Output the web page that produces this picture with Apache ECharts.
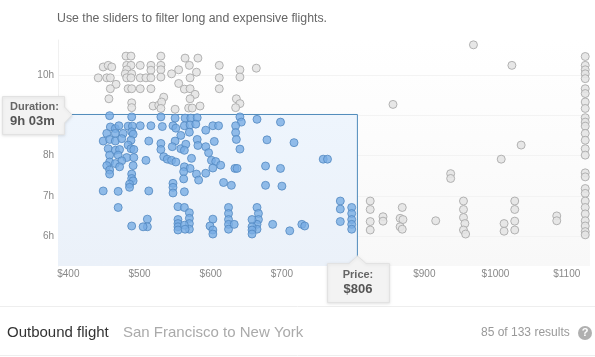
<!DOCTYPE html>
<html>
<head>
<meta charset="utf-8">
<style>
    html, body {margin: 0; padding: 0; background: #fff;}
    #chart {width: 595px; height: 357px;}
</style>
<script src="https://cdn.jsdelivr.net/npm/echarts@6/dist/echarts.min.js"></script>
</head>
<body>
<div id="chart"></div>
<script>
// [price in $, duration in hours]
const flights_selected = [
    [458, 8.99], [489, 8.96], [530, 8.96], [550, 8.93], [564, 8.93], [572, 8.93], [581, 8.94],
    [459, 8.71], [466, 8.67], [471, 8.74], [484, 8.73], [490, 8.73], [501, 8.74], [516, 8.74],
    [532, 8.72], [547, 8.74], [551, 8.68], [563, 8.74], [571, 8.76], [579, 8.78], [603, 8.74],
    [611, 8.74], [593, 8.63], [570, 8.58], [454, 8.55], [466, 8.55], [477, 8.55], [489, 8.59],
    [491, 8.53], [558, 8.50], [449, 8.36], [458, 8.40], [466, 8.36], [475, 8.42], [488, 8.38],
    [513, 8.36], [581, 8.40], [605, 8.35], [550, 8.36], [456, 8.17], [466, 8.13], [472, 8.15],
    [484, 8.26], [488, 8.17], [492, 8.15], [530, 8.30], [530, 8.15], [546, 8.22], [558, 8.17],
    [565, 8.28], [563, 8.13], [582, 8.25], [593, 8.22], [458, 8.01], [470, 8.01], [458, 7.84],
    [482, 7.95], [475, 7.87], [492, 7.95], [509, 7.88], [534, 7.97], [539, 7.91], [545, 7.88],
    [551, 7.84], [573, 7.93], [597, 8.07], [601, 7.88], [607, 7.85], [614, 7.76], [454, 7.75],
    [466, 7.80], [472, 7.72], [491, 7.75], [458, 7.64], [458, 7.54], [563, 7.72], [571, 7.68],
    [562, 7.60], [603, 7.69], [593, 7.56], [580, 7.54], [489, 7.54], [489, 7.43], [491, 7.37],
    [486, 7.29], [486, 7.21], [562, 7.42], [583, 7.39], [547, 7.31], [547, 7.21], [449, 7.12],
    [470, 7.11], [513, 7.12], [547, 7.07], [563, 7.10], [470, 6.71], [554, 6.73], [563, 6.71],
    [570, 6.58], [570, 6.44], [570, 6.31], [570, 6.17], [554, 6.41], [554, 6.31], [554, 6.23],
    [554, 6.15], [563, 6.27], [564, 6.17], [511, 6.42], [511, 6.23], [505, 6.23], [489, 6.25],
    [603, 6.42], [599, 6.25], [603, 6.15], [603, 6.05], [641, 8.96], [643, 8.83], [665, 8.90],
    [698, 8.83], [635, 8.74], [635, 8.57], [636, 8.40], [679, 8.39], [717, 8.32], [641, 8.16],
    [634, 7.68], [637, 7.68], [677, 7.74], [698, 7.68], [758, 7.91], [764, 7.91], [618, 7.33],
    [629, 7.26], [677, 7.26], [700, 7.24], [782, 6.87], [782, 6.67], [782, 6.36], [798, 6.71],
    [798, 6.56], [798, 6.41], [798, 6.29], [798, 6.17], [625, 6.71], [625, 6.56], [625, 6.41],
    [625, 6.29], [625, 6.17], [633, 6.29], [665, 6.71], [667, 6.56], [667, 6.41], [665, 6.29],
    [665, 6.17], [658, 6.41], [658, 6.23], [658, 6.15], [658, 6.05], [687, 6.29], [711, 6.13],
    [728, 6.29], [732, 6.25],
]

const flights_filtered = [
    [481, 10.47], [488, 10.47], [530, 10.47], [564, 10.42], [582, 10.42], [449, 10.20], [456, 10.24],
    [461, 10.20], [482, 10.24], [488, 10.24], [501, 10.24], [516, 10.24], [530, 10.24], [570, 10.24],
    [612, 10.24], [641, 10.13], [664, 10.17], [530, 10.13], [516, 10.12], [555, 10.13], [545, 10.03],
    [580, 10.07], [482, 10.13], [480, 10.03], [489, 10.03], [442, 9.93], [454, 9.93], [459, 9.93],
    [482, 9.93], [488, 9.93], [501, 9.93], [509, 9.93], [516, 9.93], [530, 9.95], [571, 9.93],
    [612, 9.93], [641, 9.95], [467, 9.77], [555, 9.79], [459, 9.66], [484, 9.66], [489, 9.66],
    [501, 9.66], [516, 9.66], [563, 9.65], [571, 9.66], [612, 9.66], [578, 9.52], [571, 9.41],
    [457, 9.41], [534, 9.45], [636, 9.41], [641, 9.29], [489, 9.31], [489, 9.19], [519, 9.23],
    [527, 9.25], [531, 9.33], [530, 9.17], [550, 9.15], [569, 9.18], [574, 9.18], [585, 9.23],
    [635, 9.19], [969, 10.75], [1023, 10.24], [856, 9.27], [1036, 8.26], [1008, 7.91], [937, 7.55],
    [937, 7.43], [824, 6.87], [824, 6.66], [824, 6.36], [824, 6.15], [842, 6.48], [842, 6.37],
    [869, 6.71], [866, 6.44], [870, 6.41], [866, 6.23], [869, 6.17], [916, 6.38], [955, 6.87],
    [955, 6.66], [955, 6.46], [957, 6.31], [955, 6.15], [958, 6.05], [1012, 6.31], [1012, 6.12],
    [1027, 6.87], [1027, 6.66], [1027, 6.37], [1027, 6.15], [1086, 6.50], [1086, 6.38],
    [1126, 10.46], [1126, 10.24], [1126, 10.13], [1126, 10.03], [1126, 9.91], [1126, 9.66],
    [1126, 9.54], [1126, 9.33], [1126, 9.17], [1126, 8.94], [1126, 8.83], [1126, 8.73], [1126, 8.55],
    [1126, 8.38], [1126, 8.17], [1126, 8.01], [1126, 7.57], [1126, 7.47], [1126, 7.18], [1126, 7.06],
    [1126, 6.87], [1126, 6.71], [1126, 6.55], [1126, 6.38], [1126, 6.25], [1126, 6.11], [1126, 6.03],
]

const price_ticks = [400, 500, 600, 700, 800, 900, 1000, 1100]
const duration_ticks = [6, 7, 8, 9, 10]

const price_min = 385.5
const price_max = 1132.7
const duration_min = 5.256
const duration_max = 10.87

const price_limit = 806
const duration_limit = 9.02

const LABEL_FONT = '"Liberation Sans", Arial, sans-serif'

const chart = echarts.init(document.getElementById('chart'), null, {renderer: 'canvas'})

const box_style = {
    fill: '#f3f3f3',
    stroke: '#e2e2e2',
    lineWidth: 1,
    shadowBlur: 3,
    shadowColor: 'rgba(0, 0, 0, 0.1)',
    shadowOffsetY: 1,
}

const text_at = (x, y, text, font_size, color, extra) => ({
    type: 'text',
    x,
    y,
    z: 30,
    style: {
        text,
        fontSize: font_size,
        fontFamily: LABEL_FONT,
        fill: color,
        textVerticalAlign: 'middle',
        ...extra,
    },
})

chart.setOption({
    animation: false,
    grid: {
        left: 58,
        right: 5,
        top: 40,
        bottom: 91,
        show: true,
        borderWidth: 0,
        backgroundColor: new echarts.graphic.LinearGradient(0, 0, 0, 1, [
            {offset: 0, color: '#ffffff'},
            {offset: 1, color: '#f8f8f8'},
        ]),
    },
    xAxis: {
        type: 'value',
        min: price_min,
        max: price_max,
        splitLine: {show: false},
        axisLine: {show: false},
        axisTick: {show: false},
        axisLabel: {
            customValues: price_ticks,
            formatter: v => '$' + v,
            fontSize: 10,
            fontFamily: LABEL_FONT,
            color: '#888',
            margin: 3,
            verticalAlign: 'top',
        },
    },
    yAxis: {
        type: 'value',
        min: duration_min,
        max: duration_max,
        axisLine: {show: true, lineStyle: {color: '#f0f0f0'}},
        axisTick: {show: false, customValues: duration_ticks},
        splitLine: {show: true, lineStyle: {color: '#f3f3f3'}},
        axisLabel: {
            customValues: duration_ticks,
            formatter: v => v + 'h',
            fontSize: 10,
            fontFamily: LABEL_FONT,
            color: '#888',
            margin: 4,
        },
    },
    series: [
        {
            type: 'line',
            data: [[price_min, duration_limit], [price_limit, duration_limit], [price_limit, duration_min]],
            showSymbol: false,
            z: 3,
            lineStyle: {color: '#4f8abb', width: 1},
            markArea: {
                silent: true,
                itemStyle: {
                    color: new echarts.graphic.LinearGradient(0, 0, 0, 1, [
                        {offset: 0, color: '#eef5fd'},
                        {offset: 1, color: '#ebf1f9'},
                    ]),
                },
                data: [[{coord: [price_min, duration_limit]}, {coord: [price_limit, duration_min]}]],
            },
        },
        {
            type: 'scatter',
            data: flights_filtered,
            symbolSize: 8,
            z: 4,
            itemStyle: {color: '#e4e4e4', borderColor: '#ababab', borderWidth: 1, opacity: 0.9},
        },
        {
            type: 'scatter',
            data: flights_selected,
            symbolSize: 8,
            z: 5,
            itemStyle: {color: '#78ade3', borderColor: '#5288c0', borderWidth: 1},
        },
    ],
    graphic: [
        text_at(57, 19, 'Use the sliders to filter long and expensive flights.', 12.3, '#666'),
        {
            type: 'polygon',
            z: 20,
            shape: {points: [[2.5, 96.5], [64.5, 96.5], [64.5, 107], [72, 115], [64.5, 123], [64.5, 134.5], [2.5, 134.5]]},
            style: box_style,
        },
        text_at(10, 107, 'Duration:', 11, '#666', {fontWeight: 'bold'}),
        text_at(10, 121, '9h 03m', 13, '#555', {fontWeight: 'bold'}),
        {
            type: 'polygon',
            z: 20,
            shape: {points: [[327.5, 263.5], [349, 263.5], [357.5, 256], [366, 263.5], [389.5, 263.5], [389.5, 302.5], [327.5, 302.5]]},
            style: box_style,
        },
        text_at(358, 275, 'Price:', 11, '#666', {fontWeight: 'bold', textAlign: 'center'}),
        text_at(358, 289, '$806', 13, '#555', {fontWeight: 'bold', textAlign: 'center'}),
        {
            type: 'line',
            z: 10,
            shape: {x1: 0, y1: 306.5, x2: 595, y2: 306.5},
            style: {stroke: '#eeeeee', lineWidth: 1},
        },
        {
            type: 'line',
            z: 10,
            shape: {x1: 0, y1: 355.5, x2: 595, y2: 355.5},
            style: {stroke: '#eeeeee', lineWidth: 1},
        },
        text_at(7, 333, 'Outbound flight', 15, '#333'),
        text_at(123, 333, 'San Francisco to New York', 15, '#aaa'),
        text_at(481, 333, '85 of 133 results', 12, '#999'),
        {
            type: 'circle',
            z: 20,
            shape: {cx: 585, cy: 333, r: 7},
            style: {fill: '#b0b0b0'},
        },
        text_at(585, 333, '?', 11, '#fff', {fontWeight: 'bold', textAlign: 'center'}),
    ],
})
</script>
</body>
</html>
